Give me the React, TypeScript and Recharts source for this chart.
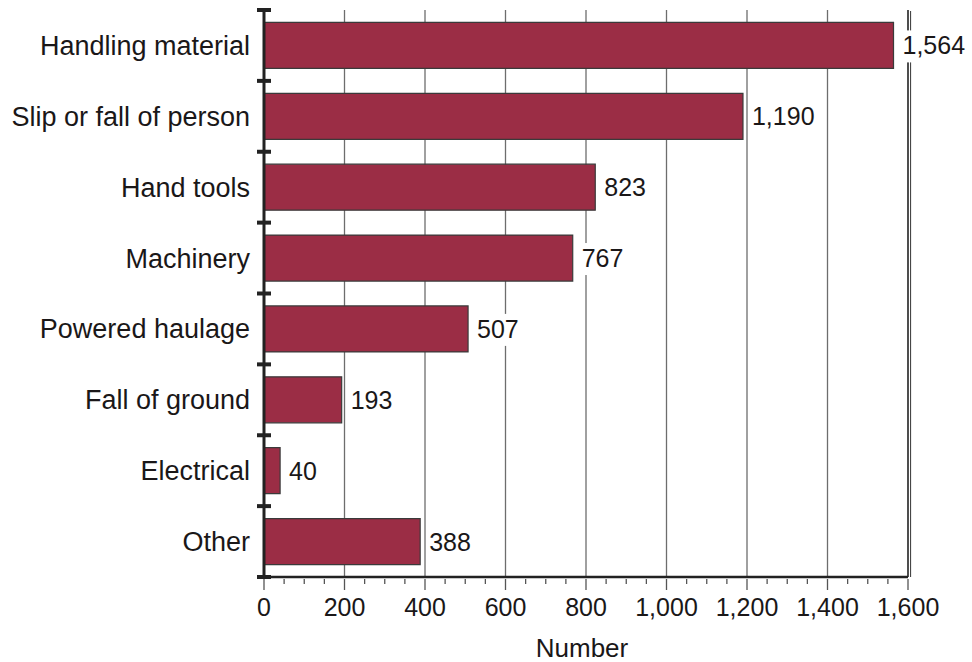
import React from 'react';
import {
  BarChart,
  Bar,
  XAxis,
  YAxis,
  CartesianGrid,
  ReferenceLine,
  LabelList,
} from 'recharts';

const categories = [
  'Handling material',
  'Slip or fall of person',
  'Hand tools',
  'Machinery',
  'Powered haulage',
  'Fall of ground',
  'Electrical',
  'Other',
];
const values = [1564, 1190, 823, 767, 507, 193, 40, 388];
const majorTicks = [0, 200, 400, 600, 800, 1000, 1200, 1400, 1600];
const minorTicks = [
  50, 100, 150, 250, 300, 350, 450, 500, 550, 650, 700, 750,
  850, 900, 950, 1050, 1100, 1150, 1250, 1300, 1350, 1450, 1500, 1550,
];

const data = categories.map((name, i) => ({ name, value: values[i] }));
const allTicks = [...majorTicks, ...minorTicks].sort((a, b) => a - b);

const WIDTH = 972;
const HEIGHT = 662;
const MARGIN = { top: 10, right: 64, left: 0, bottom: 0 };
const X_AXIS_HEIGHT = 85;
const Y_AXIS_WIDTH = 264;
const FONT = '"Liberation Sans", Arial, Helvetica, sans-serif';
const TEXT = '#1a1718';
const BAND = (HEIGHT - MARGIN.top - MARGIN.bottom - X_AXIS_HEIGHT) / categories.length;

const fmt = (v: number) => v.toLocaleString('en-US');

const CategoryTick = (props: any) => {
  const { x, y, payload, index } = props;
  const mark = (yy: number) => (
    <line x1={x - 7} x2={x + 7} y1={yy} y2={yy} stroke="#222" strokeWidth={4} />
  );
  return (
    <g>
      <text
        x={x - 14}
        y={y}
        dy="0.35em"
        textAnchor="end"
        fontSize={27}
        fontFamily={FONT}
        fill={TEXT}
      >
        {payload.value}
      </text>
      {mark(y - BAND / 2)}
      {index === categories.length - 1 && mark(y + BAND / 2)}
    </g>
  );
};

const NumberTick = (props: any) => {
  const { x, y, payload } = props;
  const major = majorTicks.includes(payload.value);
  return (
    <g>
      <line x1={x} x2={x} y1={y + 2} y2={y + (major ? 13 : 7)} stroke="#555" strokeWidth={1.3} />
      {major && (
        <text
          x={x}
          y={y + 39}
          textAnchor="middle"
          fontSize={25}
          fontFamily={FONT}
          fill={TEXT}
        >
          {fmt(payload.value)}
        </text>
      )}
    </g>
  );
};

const ValueLabel = (props: any) => {
  const { x, y, width, height, value } = props;
  const s = fmt(value);
  const tx = x + width + 9;
  const w = s.replace(/,/g, '').length * 13.9 + (s.includes(',') ? 7 : 0);
  const cy = y + height / 2;
  return (
    <g>
      <rect x={tx - 2} y={cy - 15} width={w + 5} height={32} fill="#fff" />
      <text
        x={tx}
        y={cy}
        dy="0.36em"
        fontSize={25}
        fontFamily={FONT}
        fill={TEXT}
      >
        {s}
      </text>
    </g>
  );
};

const RightBorder = (props: any) => {
  const { x1, y1, y2 } = props;
  return (
    <g>
      <line x1={x1} x2={x1} y1={y1} y2={y2} stroke="#222" strokeWidth={1.6} />
      <line x1={x1 + 2.6} x2={x1 + 2.6} y1={y1} y2={y2 + 1} stroke="#333" strokeWidth={1} />
    </g>
  );
};

export default function App() {
  return (
    <div style={{ position: 'absolute', left: 0, top: 0, width: WIDTH, height: HEIGHT, background: '#fff' }}>
      <BarChart
        width={WIDTH}
        height={HEIGHT}
        data={data}
        layout="vertical"
        margin={MARGIN}
        barCategoryGap="17.5%"
      >
        <CartesianGrid
          horizontal={false}
          vertical
          stroke="#6d6d6d"
          strokeWidth={1.3}
          verticalValues={majorTicks.slice(1, -1)}
        />
        <XAxis
          type="number"
          domain={[0, 1600]}
          ticks={allTicks}
          interval={0}
          height={X_AXIS_HEIGHT}
          tickSize={0}
          tickMargin={0}
          tickLine={false}
          axisLine={{ stroke: '#222', strokeWidth: 2.5 }}
          tick={<NumberTick />}
          label={{
            value: 'Number',
            position: 'insideBottom',
            offset: 5,
            dx: -4,
            fontSize: 26,
            fontFamily: FONT,
            fill: TEXT,
          }}
        />
        <XAxis
          xAxisId="top"
          orientation="top"
          type="number"
          domain={[0, 1600]}
          height={0}
          tick={false}
          tickLine={false}
          axisLine={{ stroke: '#222', strokeWidth: 2 }}
        />
        <YAxis
          type="category"
          dataKey="name"
          width={Y_AXIS_WIDTH}
          tickSize={0}
          tickMargin={0}
          tickLine={false}
          interval={0}
          axisLine={{ stroke: '#222', strokeWidth: 3 }}
          tick={<CategoryTick />}
        />
        <ReferenceLine x={1600} shape={<RightBorder />} />
        <Bar
          dataKey="value"
          fill="#9b2d45"
          stroke="#3a3a3a"
          strokeWidth={1.2}
          isAnimationActive={false}
        >
          <LabelList dataKey="value" content={<ValueLabel />} />
        </Bar>
      </BarChart>
    </div>
  );
}
